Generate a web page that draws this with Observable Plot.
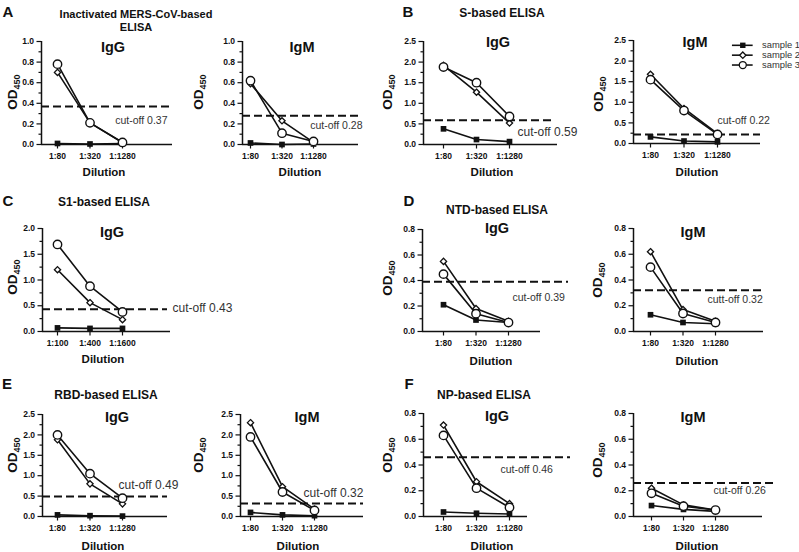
<!DOCTYPE html>
<html><head><meta charset="utf-8">
<script src="https://cdn.jsdelivr.net/npm/d3@7"></script>
<script src="https://cdn.jsdelivr.net/npm/@observablehq/plot@0.6"></script>
<style>
body{margin:0;background:#fff;}
#root{position:relative;width:799px;height:552px;overflow:hidden;background:#fff;font-family:"Liberation Sans",Arial,sans-serif;color:#111;}
.t{position:absolute;transform:translate(-50%,-50%);white-space:nowrap;font-weight:bold;line-height:1;}
.pw{position:absolute;}
.pw svg{overflow:visible;}
</style></head><body><div id="root"></div>
<script>
// ---------- data ----------
const dil80 = ["1:80", "1:320", "1:1280"];
const dil100 = ["1:100", "1:400", "1:1600"];
const sampleNames = ["sample 1", "sample 2", "sample 3"];

// OD450 values: rows = sample 1, sample 2, sample 3; columns = dilutions
const A_IgG = [[0.01, 0.005, 0.01], [0.70, 0.21, 0.02], [0.78, 0.21, 0.02]];
const A_IgM = [[0.015, 0.0, 0.005], [0.59, 0.23, 0.02], [0.62, 0.11, 0.03]];
const B_IgG = [[0.38, 0.12, 0.07], [1.92, 1.27, 0.52], [1.88, 1.50, 0.68]];
const B_IgM = [[0.16, 0.06, 0.04], [1.68, 0.85, 0.24], [1.55, 0.80, 0.22]];
const C_IgG = [[0.07, 0.06, 0.06], [1.20, 0.56, 0.23], [1.69, 0.88, 0.38]];
const D_IgG = [[0.21, 0.09, 0.07], [0.55, 0.18, 0.08], [0.45, 0.14, 0.07]];
const D_IgM = [[0.13, 0.07, 0.06], [0.62, 0.17, 0.08], [0.50, 0.14, 0.07]];
const E_IgG = [[0.04, 0.02, 0.01], [1.88, 0.80, 0.31], [2.00, 1.05, 0.45]];
const E_IgM = [[0.10, 0.04, 0.02], [2.30, 0.73, 0.18], [1.95, 0.60, 0.15]];
const F_IgG = [[0.035, 0.025, 0.02], [0.71, 0.27, 0.10], [0.63, 0.22, 0.07]];
const F_IgM = [[0.085, 0.055, 0.04], [0.22, 0.09, 0.05], [0.18, 0.08, 0.05]];

const cutoffs = [0.37, 0.28, 0.59, 0.22, 0.43, 0.39, 0.32, 0.49, 0.32, 0.46, 0.26];
const cutPrefix = ["cut-off", "cut-off", "cut-off", "cut-off", "cut-off", "cut-off", "cutt-off", "cut-off", "cut-off", "cut-off", "cut-off"];

const panelLetters = ["A", "B", "C", "D", "E", "F"];
const elisaTitles = [["Inactivated MERS-CoV-based", "ELISA"], ["S-based ELISA"], ["S1-based ELISA"], ["NTD-based ELISA"], ["RBD-based ELISA"], ["NP-based ELISA"]];

// ---------- layout ----------
const panels = [
  {data: A_IgG, cats: dil80, title: "IgG", ymax: 1.0, step: 0.2, axisX: 41, p0: 57, p2: 122, axisEnd: 172, dashEnd: 172, yTop: 41, y0: 144, lab: [167, 120, "end", 10.5], tXY: [113, 47], odXY: [14, 92], dXY: [104, 173]},
  {data: A_IgM, cats: dil80, title: "IgM", ymax: 1.0, step: 0.2, axisX: 242, p0: 250, p2: 313, axisEnd: 358, dashEnd: 358, yTop: 41, y0: 144, lab: [362, 125, "end", 10.5], tXY: [302, 47], odXY: [200, 92], dXY: [300, 173]},
  {data: B_IgG, cats: dil80, title: "IgG", ymax: 2.5, step: 0.5, axisX: 423, p0: 443, p2: 509, axisEnd: 557, dashEnd: 555, yTop: 41, y0: 144, lab: [517, 132, "start", 12], tXY: [498, 42], odXY: [389, 92], dXY: [492, 173]},
  {data: B_IgM, cats: dil80, title: "IgM", ymax: 2.5, step: 0.5, axisX: 633, p0: 650, p2: 717, axisEnd: 760, dashEnd: 760, yTop: 40, y0: 143, lab: [717, 120, "start", 10.5], tXY: [695, 42], odXY: [600, 94], dXY: [697, 173]},
  {data: C_IgG, cats: dil100, title: "IgG", ymax: 2.0, step: 0.5, axisX: 42, p0: 57, p2: 122, axisEnd: 170, dashEnd: 167, yTop: 228, y0: 331, lab: [172, 308, "start", 12], tXY: [112, 232], odXY: [14, 277], dXY: [103, 360]},
  {data: D_IgG, cats: dil80, title: "IgG", ymax: 0.8, step: 0.2, axisX: 422, p0: 443, p2: 508, axisEnd: 540, dashEnd: 568, yTop: 229, y0: 331, lab: [512, 297, "start", 10.5], tXY: [497, 228], odXY: [389, 278], dXY: [491, 362]},
  {data: D_IgM, cats: dil80, title: "IgM", ymax: 0.8, step: 0.2, axisX: 633, p0: 650, p2: 715, axisEnd: 763, dashEnd: 762, yTop: 228, y0: 331, lab: [707, 299, "start", 10.5], tXY: [693, 232], odXY: [599, 280], dXY: [697, 362]},
  {data: E_IgG, cats: dil80, title: "IgG", ymax: 2.5, step: 0.5, axisX: 42, p0: 57, p2: 122, axisEnd: 167, dashEnd: 167, yTop: 414, y0: 516, lab: [118, 485, "start", 12], tXY: [117, 417], odXY: [14, 455], dXY: [103, 547]},
  {data: E_IgM, cats: dil80, title: "IgM", ymax: 2.5, step: 0.5, axisX: 240, p0: 250, p2: 314, axisEnd: 363, dashEnd: 363, yTop: 414, y0: 516, lab: [303, 493, "start", 12], tXY: [307, 417], odXY: [200, 455], dXY: [298, 547]},
  {data: F_IgG, cats: dil80, title: "IgG", ymax: 0.8, step: 0.2, axisX: 423, p0: 443, p2: 509, axisEnd: 527, dashEnd: 570, yTop: 413, y0: 516, lab: [500, 469, "start", 10.5], tXY: [497, 416], odXY: [389, 455], dXY: [492, 547]},
  {data: F_IgM, cats: dil80, title: "IgM", ymax: 0.8, step: 0.2, axisX: 633, p0: 651, p2: 715, axisEnd: 762, dashEnd: 777, yTop: 413, y0: 516, lab: [713, 490, "start", 10.5], tXY: [693, 417], odXY: [599, 460], dXY: [697, 547]}
];
const letterXY = [[8, 11], [408, 11], [8, 200], [409, 200], [7, 383], [409, 383]];
const elisaXY = [[136, 14], [502, 13], [104, 202], [497, 210], [106, 395], [484, 395]];

const root = document.getElementById("root");
function addText(html, x, y, size, extra = "") {
  const d = document.createElement("div");
  d.className = "t";
  d.style.left = x + "px"; d.style.top = y + "px"; d.style.fontSize = size + "px";
  d.style.cssText += extra;
  d.innerHTML = html;
  root.appendChild(d);
}

const FONT = '"Liberation Sans", Arial, sans-serif';
const INK = "#111";

panels.forEach((p, k) => {
  const s = (p.p2 - p.p0) / 2;
  const toX = px => (px - p.p0) / s;
  const mL = 40, mT = 8, mB = 24;
  const left = p.axisX - mL, top = p.yTop - mT;
  const labEnd = p.lab[2] === "start" ? p.lab[0] + 75 : p.lab[0];
  const right = Math.max(p.axisEnd, p.dashEnd, labEnd) + 4;
  const width = right - left;
  const height = (p.y0 - top) + mB;
  const mR = right - p.axisEnd;
  const xlo = toX(p.axisX), xhi = toX(p.axisEnd);
  const rows = [];
  p.data.forEach((vals, si) => vals.forEach((v, ci) => rows.push({sample: sampleNames[si], xi: ci, v})));
  const nMaj = Math.round(p.ymax / p.step);
  const majors = d3.range(nMaj + 1).map(i => +(i * p.step).toFixed(2));
  const minors = d3.range(nMaj).map(i => +((i + 0.5) * p.step).toFixed(3));
  const cut = cutoffs[k];
  const cutY = p.y0 - cut / p.ymax * (p.y0 - p.yTop);

  const chart = Plot.plot({
    width, height, marginLeft: mL, marginTop: mT, marginBottom: mB, marginRight: mR,
    style: {fontFamily: FONT, color: INK, background: "transparent", overflow: "visible"},
    x: {domain: [xlo, xhi], label: null},
    y: {domain: [0, p.ymax], label: null},
    marks: [
      Plot.axisY(minors, {tickSize: 2.5, tickFormat: () => "", strokeWidth: 1.2, label: null}),
      Plot.axisY(majors, {tickSize: 4.5, tickPadding: 3, tickFormat: d3.format(".1f"), fontSize: 8.5, fontWeight: "bold", strokeWidth: 1.2, label: null}),
      Plot.axisX([0, 1, 2], {tickSize: 4.5, tickPadding: 4, tickFormat: i => p.cats[i], fontSize: 8.5, fontWeight: "bold", strokeWidth: 1.2, label: null}),
      Plot.ruleX([xlo], {y1: 0, y2: p.ymax, stroke: INK, strokeWidth: 1.5}),
      Plot.ruleY([0], {x1: xlo, x2: xhi, stroke: INK, strokeWidth: 1.5}),
      Plot.ruleY([cut], {x1: xlo, x2: toX(p.dashEnd), stroke: INK, strokeWidth: 2, strokeDasharray: "8,4"}),
      Plot.text([cut], {x: toX(p.lab[0]), y: d => d, dy: p.lab[1] - cutY, text: d => `${cutPrefix[k]} ${d}`, textAnchor: p.lab[2], fontSize: p.lab[3], fill: "#333"}),
      Plot.line(rows, {x: "xi", y: "v", z: "sample", stroke: INK, strokeWidth: 1.6}),
      Plot.dot(rows.filter(d => d.sample === sampleNames[0]), {x: "xi", y: "v", symbol: "square", r: 3.2, fill: INK, stroke: "none"}),
      Plot.dot(rows.filter(d => d.sample === sampleNames[1]), {x: "xi", y: "v", symbol: "diamond2", r: 2.8, fill: "white", stroke: INK, strokeWidth: 1.3}),
      Plot.dot(rows.filter(d => d.sample === sampleNames[2]), {x: "xi", y: "v", symbol: "circle", r: 4.2, fill: "white", stroke: INK, strokeWidth: 1.4})
    ]
  });
  const w = document.createElement("div");
  w.className = "pw";
  w.style.left = left + "px"; w.style.top = top + "px";
  w.appendChild(chart);
  root.appendChild(w);

  addText(p.title, p.tXY[0], p.tXY[1], 14.5);
  addText("OD<sub style=\"font-size:9px;vertical-align:-3px\">450</sub>", p.odXY[0], p.odXY[1], 13.5, "transform:translate(-50%,-50%) rotate(-90deg);");
  addText("Dilution", p.dXY[0], p.dXY[1], 11.5);
});

panelLetters.forEach((L, i) => addText(L, letterXY[i][0], letterXY[i][1], 15));
elisaTitles.forEach((lines, i) => {
  lines.forEach((ln, j) => addText(ln, elisaXY[i][0], elisaXY[i][1] + j * 13, lines.length > 1 ? 11 : 12));
});

// legend
const legendRows = sampleNames.map((n, i) => ({n, i}));
const legendSyms = ["square", "diamond2", "circle"];
const legend = Plot.plot({
  width: 72, height: 46, margin: 0,
  style: {fontFamily: FONT, color: INK, background: "transparent", overflow: "visible"},
  x: {type: "identity", axis: null},
  y: {type: "point", domain: sampleNames, range: [8, 38], axis: null},
  marks: [
    Plot.ruleY(legendRows, {y: "n", x1: 4, x2: 25, stroke: INK, strokeWidth: 1.6}),
    Plot.dot(legendRows, {x: 14.5, y: "n", symbol: d => legendSyms[d.i], r: d => [3.2, 2.8, 4.2][d.i], fill: d => d.i === 0 ? INK : "white", stroke: d => d.i === 0 ? "none" : INK, strokeWidth: 1.3}),
    Plot.text(legendRows, {x: 34, y: "n", text: "n", textAnchor: "start", fontSize: 9.5, fill: "#333"})
  ]
});
const lw = document.createElement("div");
lw.className = "pw"; lw.style.left = "728px"; lw.style.top = "32px";
lw.appendChild(legend);
root.appendChild(lw);
</script></body></html>
